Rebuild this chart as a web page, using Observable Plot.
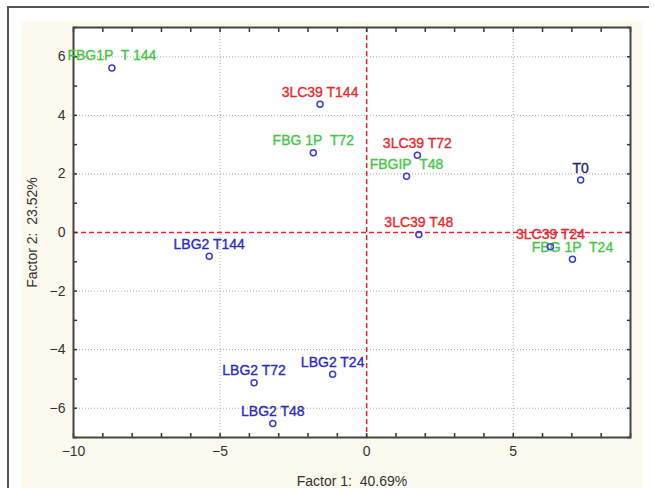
<!DOCTYPE html>
<html>
<head>
<meta charset="utf-8">
<script src="https://cdn.jsdelivr.net/npm/d3@7"></script>
<script src="https://cdn.jsdelivr.net/npm/@observablehq/plot@0.6"></script>
<style>
  html, body { margin: 0; padding: 0; background: #ffffff; }
  #wrap { position: relative; width: 654px; height: 488px; overflow: hidden; }
  #cream { position: absolute; left: 21px; top: 21px; width: 622px; height: 467px; background: #fcf9ee; }
  #outer { position: absolute; left: 7px; top: 6px; width: 640px; height: 500px;
           border-top: 2px solid #555; border-left: 2px solid #555; }
  #chart { position: absolute; left: 0; top: 0; }
</style>
</head>
<body>
<div id="wrap"><div id="cream"></div><div id="outer"></div><div id="chart"></div></div>
<script>
// Sample labels, Factor 1 and Factor 2 scores, and label groups
const names = ["FBG1P\u00a0 T 144", "3LC39 T144", "FBG 1P\u00a0 T72", "3LC39 T72", "FBGIP\u00a0 T48", "T0",
               "3LC39 T48", "3LC39 T24", "FBG 1P\u00a0 T24", "LBG2 T144", "LBG2 T72", "LBG2 T24", "LBG2 T48"];
const factor1 = [-8.69, -1.59, -1.82, 1.73, 1.36, 7.30, 1.78, 6.27, 7.02, -5.37, -3.84, -1.16, -3.20];
const factor2 = [5.62, 4.38, 2.72, 2.64, 1.92, 1.79, -0.07, -0.49, -0.91, -0.81, -5.13, -4.84, -6.52];
const groups = ["FBG1P", "3LC39", "FBG1P", "3LC39", "FBG1P", "T0", "3LC39", "3LC39", "FBG1P", "LBG2", "LBG2", "LBG2", "LBG2"];

const groupNames = ["FBG1P", "3LC39", "LBG2", "T0"];
const groupColors = ["#46c646", "#e8262e", "#2a2ac4", "#25256b"];

const xMajorTicks = [-10, -5, 0, 5];
const xMinorTicks = d3.range(-10, 10, 1);
const yMajorTicks = [-6, -4, -2, 0, 2, 4, 6];
const yMinorTicks = d3.range(-7, 8, 1);
const xGridLines = [-5, 5];
const yGridLines = [-6, -4, -2, 2, 4, 6];

const xLabel = "Factor 1:  40.69%";
const yLabel = "Factor 2:  23.52%";

const data = names.map((n, i) => ({name: n, f1: factor1[i], f2: factor2[i], group: groups[i]}));
const colorOf = g => groupColors[groupNames.indexOf(g)];

const tickStyle = {stroke: "#333", strokeWidth: 1.5, fill: "none", label: null, tickSize: 4};
const chart = Plot.plot({
  width: 654,
  height: 488,
  marginLeft: 73,
  marginRight: 24,
  marginTop: 27,
  marginBottom: 51,
  x: {domain: [-10, 9]},
  y: {domain: [-7, 7]},
  style: {background: "transparent", fontFamily: "'Liberation Sans', Arial, sans-serif", fontSize: "14px", color: "#333"},
  marks: [
    Plot.frame({fill: "white", stroke: "none"}),
    Plot.gridX(xGridLines, {stroke: "#a8a8a8", strokeOpacity: 1, strokeDasharray: "1,2"}),
    Plot.gridY(yGridLines, {stroke: "#a8a8a8", strokeOpacity: 1, strokeDasharray: "1,2"}),
    Plot.ruleX([0], {stroke: "#e3262e", strokeWidth: 1.5, strokeDasharray: "5,3"}),
    Plot.ruleY([0], {stroke: "#e3262e", strokeWidth: 1.5, strokeDasharray: "5,3"}),
    // inward minor ticks on all four sides
    Plot.axisX(xMinorTicks, {...tickStyle, anchor: "bottom", dy: -4}),
    Plot.axisX(xMinorTicks, {...tickStyle, anchor: "top", dy: 4}),
    Plot.axisY(yMinorTicks, {...tickStyle, anchor: "left", dx: 4}),
    Plot.axisY(yMinorTicks, {...tickStyle, anchor: "right", dx: -4}),
    // tick labels
    Plot.axisX(xMajorTicks, {anchor: "bottom", tickSize: 0, tickPadding: 9, fill: "#333",
      label: xLabel, labelAnchor: "center", labelArrow: "none", labelOffset: 48}),
    Plot.axisY(yMajorTicks, {anchor: "left", tickSize: 0, tickPadding: 8, fill: "#333",
      label: yLabel, labelAnchor: "center", labelArrow: "none", labelOffset: 46}),
    Plot.frame({stroke: "#444", strokeWidth: 2}),
    Plot.text(data, {x: "f1", y: "f2", text: "name", dy: -12, fontSize: 14,
      fill: d => colorOf(d.group), stroke: d => colorOf(d.group), strokeWidth: 0.35}),
    Plot.dot(data, {x: "f1", y: "f2", r: 3, stroke: "#3b3bcf", strokeWidth: 1.5, fill: "none"})
  ]
});
document.getElementById("chart").appendChild(chart);
</script>
</body>
</html>
